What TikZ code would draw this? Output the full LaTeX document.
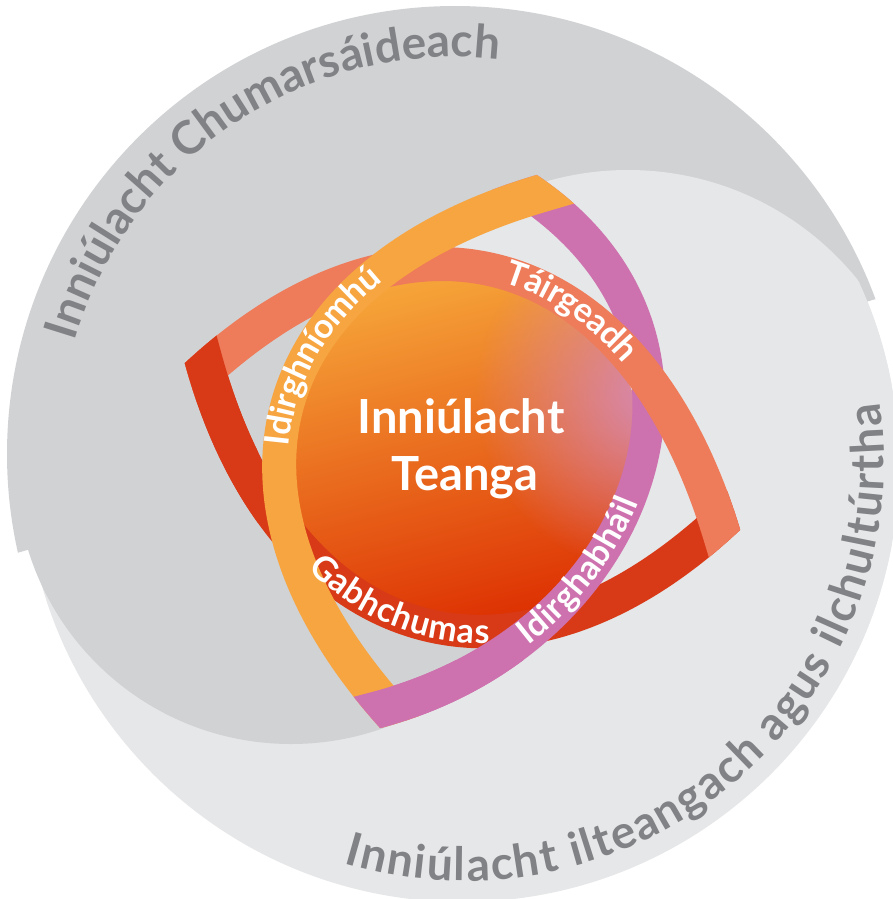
\documentclass[tikz,border=0pt]{standalone}
\usepackage{fontspec}
\setmainfont{Lato}
\usetikzlibrary{decorations.text,fadings}
\definecolor{gdark}{HTML}{D1D2D4}
\definecolor{glight}{HTML}{E6E7E8}
\definecolor{gtext}{HTML}{808285}
\definecolor{ccoral}{HTML}{EE7B59}
\definecolor{cred}{HTML}{D83A18}
\definecolor{corange}{HTML}{F6A541}
\definecolor{cpink}{HTML}{CD72AE}
\definecolor{zorange}{HTML}{F6A63A}
\definecolor{zsalmon}{HTML}{E9836A}
\definecolor{zred}{HTML}{DC2C00}
\definecolor{zpink}{HTML}{D68AB6}
\tikzfading[name=softspot, inner color=transparent!0, outer color=transparent!100]

% horizontal lens (local frame: u along the lens axis, w towards the red side)
\def\COcurve{(-290,0) .. controls (-137.5,-260) and (117.5,-260) .. (290,0)}
\def\CIback{-- (291.5,71) -- (258.3,21) .. controls (97,-222) and (-115.8,-222) .. (-257.2,19.2) -- (-287.6,71)}
\def\ROcurve{(-290,0) .. controls (-127.5,260) and (135,268) .. (290,0)}
\def\RIback{-- (286.4,-71) -- (256.9,-18.7) .. controls (113.4,230) and (-105.7,223.2) .. (-257.8,-20.1) -- (-289.6,-71)}
% vertical lens (local frame: u from top tip to bottom tip, w towards the orange side)
\def\OOcurve{(-287.5,0) .. controls (-125,259) and (125,259) .. (287.5,0)}
\def\OIback{-- (287.2,-71) -- (255.3,-20.2) .. controls (104.1,221) and (-104.1,221) .. (-255.3,-20.2) -- (-287.2,-71)}
\def\POcurve{(-287.5,0) .. controls (-200,-270) and (140,-250) .. (287.5,0)}
\def\PIback{-- (286.1,70.5) -- (255.6,18.8) .. controls (118.2,-214.3) and (-173.7,-231.4) .. (-252.3,11.4) -- (-270.8,68.5)}

\begin{document}
\begin{tikzpicture}[x=1pt,y=-1pt,
  hframe/.style={shift={(462.5,446.5)}, rotate=-16.7},
  vframe/.style={shift={(458.5,451.5)}, rotate=-105.8},
  outertext/.style={decorate, decoration={text along path, text align=fit to path,
     text={|\fontsize{46}{46}\selectfont\bfseries\color{gtext}|#1}}},
  bandtext/.style={decorate, decoration={text along path, raise=-9pt,
     text={|\fontsize{34}{34}\selectfont\bfseries\color{white}|#1}}},
  titletext/.style={font=\fontsize{47}{47}\selectfont\bfseries, text=white, anchor=base, inner sep=0pt}]
\useasboundingbox (0,0) rectangle (893,899);

% ---- grey background (two interlocking discs)
\fill[glight] (462,465) circle[radius=437];
\begin{scope}
  \clip (-10,561) -- (903,291) -- (903,-10) -- (-10,-10) -- cycle;
  \fill[gdark] (455,454) circle[radius=448];
\end{scope}
\begin{scope}
  \clip (462,465) circle[radius=437];
  \fill[glight] (628,465) circle[radius=295];
\end{scope}
\begin{scope}
  \clip (0,469) rectangle (893,899);
  \fill[gdark] (291,469) circle[radius=275];
\end{scope}

% ---- central gradient disc
\begin{scope}
  \clip (463,448) circle[radius=178];
  \shade[top color=zorange, middle color=zsalmon, bottom color=zred, shading angle=14] (280,270) rectangle (646,640);
  \fill[zpink, path fading=softspot, fit fading=false,
        fading transform={shift={(655,395)}, scale=7.2}] (655,395) circle[radius=350];
\end{scope}

% ---- bands
% red: lower arc of the horizontal lens
\begin{scope}[hframe]
  \clip \COcurve -- (400,0) -- (400,600) -- (-400,600) -- (-400,0) -- cycle;
  \fill[cred] \ROcurve \RIback -- cycle;
\end{scope}
% pink: right arc of the vertical lens
\begin{scope}[vframe]
  \clip \OOcurve -- (400,0) -- (400,-600) -- (-400,-600) -- (-400,0) -- cycle;
  \fill[cpink] \POcurve \PIback -- cycle;
\end{scope}
% coral: upper arc of the horizontal lens
\begin{scope}[hframe]
  \clip \ROcurve -- (400,0) -- (400,-600) -- (-400,-600) -- (-400,0) -- cycle;
  \fill[ccoral] \COcurve \CIback -- cycle;
\end{scope}
% orange: left arc of the vertical lens
\begin{scope}[vframe]
  \clip \POcurve -- (400,0) -- (400,600) -- (-400,600) -- (-400,0) -- cycle;
  \fill[corange] \OOcurve \OIback -- cycle;
\end{scope}
% red over coral at the left tip
\begin{scope}
  \clip (0,0) rectangle (258,899);
  \begin{scope}[hframe]
    \clip \COcurve -- (400,0) -- (400,600) -- (-400,600) -- (-400,0) -- cycle;
    \fill[cred] \ROcurve \RIback -- cycle;
  \end{scope}
\end{scope}
% pink over orange at the bottom tip
\begin{scope}
  \clip (0,660) rectangle (893,899);
  \begin{scope}[vframe]
    \clip \OOcurve -- (400,0) -- (400,-600) -- (-400,-600) -- (-400,0) -- cycle;
    \fill[cpink] \POcurve \PIback -- cycle;
  \end{scope}
\end{scope}

% ---- band labels (on the band centre lines)
\begin{scope}[hframe]
  \path[bandtext={Táirgeadh}] (-7.2,-178.2) .. controls (90.5,-178.1) and (190.7,-115.25) .. (274.2,10.5);
  \path[bandtext={Gabhchumas}, decoration={text align={left indent=12pt}}] (-120.2,147.9) .. controls (15.4,226.2) and (167.6,178.6) .. (273.5,-9.3);
\end{scope}
\begin{scope}[vframe]
  \path[bandtext={Idirghníomhú}] (42.8,173.4) .. controls (-67.5,194.6) and (-181.4,133.5) .. (-271.4,-10.1);
  \path[bandtext={Idirghabháil}] (162.6,-112.8) .. controls (6.7,-227.8) and (-204.3,-196.9) .. (-269.9,5.7);
\end{scope}

% ---- outer labels
\path[outertext={Inniúlacht Chumarsáideach}] ([shift={(196.5:397)}]455,454) arc[start angle=196.5, end angle=276, radius=397];
\path[outertext={Inniúlacht ilteangach agus ilchultúrtha}] ([shift={(106.8:419)}]465,462) arc[start angle=106.8, end angle=-8.1, radius=419];

% ---- title
\node[titletext] (title1) at (461,433) {Inniúlacht};
\node[titletext] (title2) at (465,490) {Teanga};
\end{tikzpicture}
\end{document}
